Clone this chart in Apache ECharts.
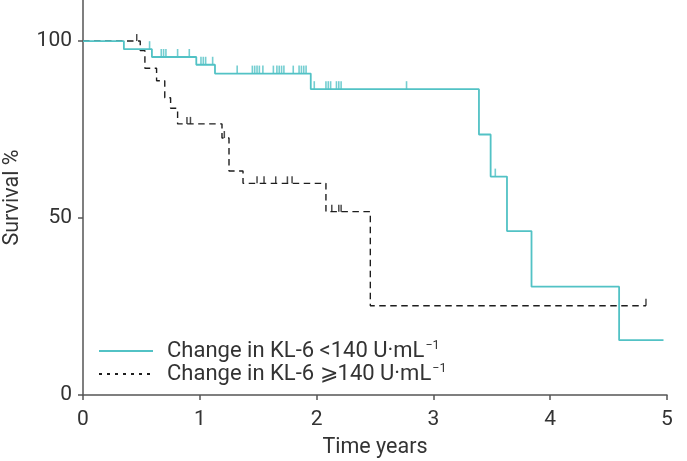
<!DOCTYPE html>
<html>
<head>
<meta charset="utf-8">
<script src="https://cdn.jsdelivr.net/npm/echarts@6/dist/echarts.min.js"></script>
<style>html,body{margin:0;padding:0;background:#fff}#c{width:687px;height:461px}</style>
</head>
<body>
<div id="c"></div>
<script>
// Time (years) at which each step occurs, and survival % after the step
var lowTimes     = [0, 0.35, 0.59, 0.97, 1.13, 1.95, 3.39, 3.49, 3.63, 3.84, 4.59, 4.97];
var lowSurvival  = [100, 97.7, 95.5, 93.3, 90.8, 86.4, 73.6, 61.7, 46.3, 30.6, 15.5, 15.5];
var lowCensorT   = [0.57, 0.67, 0.69, 0.71, 0.81, 0.91, 1.01, 1.03, 1.05, 1.11, 1.32, 1.45, 1.47, 1.49, 1.51, 1.54, 1.63, 1.66, 1.68, 1.70, 1.72, 1.80, 1.85, 1.87, 1.89, 1.91, 1.98, 2.08, 2.10, 2.12, 2.17, 2.19, 2.21, 2.77, 3.53];
var lowCensorS   = [97.7, 95.5, 95.5, 95.5, 95.5, 95.5, 93.3, 93.3, 93.3, 93.3, 90.8, 90.8, 90.8, 90.8, 90.8, 90.8, 90.8, 90.8, 90.8, 90.8, 90.8, 90.8, 90.8, 90.8, 90.8, 90.8, 86.4, 86.4, 86.4, 86.4, 86.4, 86.4, 86.4, 86.4, 61.7];

var highTimes    = [0, 0.49, 0.53, 0.63, 0.70, 0.75, 0.81, 1.19, 1.25, 1.37, 2.08, 2.46, 4.82];
var highSurvival = [100, 97.3, 92.3, 88.8, 84.0, 81.0, 76.6, 72.6, 63.3, 59.8, 51.8, 25.2, 25.2];
var highCensorT  = [0.46, 0.89, 0.92, 1.21, 1.49, 1.55, 1.65, 1.75, 1.79, 2.13, 2.19, 2.21, 4.82];
var highCensorS  = [100, 76.6, 76.6, 72.6, 59.8, 59.8, 59.8, 59.8, 59.8, 51.8, 51.8, 51.8, 25.2];

var xTicks = [0, 1, 2, 3, 4, 5];
var yTicks = [0, 50, 100];

var lowName  = 'Change in KL-6 <140 U\u00B7mL';
var highName = 'Change in KL-6 \u2A7E140 U\u00B7mL';

function pairs(a, b) { return a.map(function (v, i) { return [v, b[i]]; }); }

var cyan = '#52c2c5';
var dark = '#1e1e1e';
var fontFam = 'Roboto, "Noto Sans", sans-serif';

var chart = echarts.init(document.getElementById('c'), null, {renderer: 'canvas'});
chart.setOption({
  animation: false,
  backgroundColor: '#fff',
  textStyle: {fontFamily: fontFam},
  grid: {left: 83, right: 20, top: 0, bottom: 66, containLabel: false, outerBoundsMode: 'none'},
  legend: {
    orient: 'vertical', left: 98, top: 339, padding: 0, itemWidth: 54, itemHeight: 14, itemGap: 0,
    itemStyle: {opacity: 0},
    data: [
      {name: lowName},
      {name: highName, lineStyle: {type: [3, 5]}}
    ],
    formatter: function (n) { return '{t|' + n + '}{s|\u22121}'; },
    textStyle: {
      fontFamily: fontFam, fontSize: 22, color: '#333',
      rich: {
        t: {fontFamily: fontFam, fontSize: 22, color: '#333', lineHeight: 24, padding: [0, 0, 0, 9]},
        s: {fontFamily: fontFam, fontSize: 12.5, color: '#333', verticalAlign: 'top', lineHeight: 12, padding: [0, 0, 9, 1]}
      }
    }
  },
  xAxis: {
    type: 'value', min: 0, max: 5, interval: 1,
    name: 'Time years', nameLocation: 'middle', nameGap: 42,
    nameTextStyle: {fontSize: 21.5, color: '#333', fontFamily: fontFam},
    axisLine: {lineStyle: {color: '#555', width: 1.5}},
    axisTick: {show: true, length: 5, lineStyle: {color: '#555', width: 1.5}},
    axisLabel: {fontSize: 21, color: '#333', margin: 14, fontFamily: fontFam,
      formatter: function (v) { return xTicks.indexOf(v) >= 0 ? String(v) : ''; }},
    splitLine: {show: false}
  },
  yAxis: {
    type: 'value', min: 0, max: 111.6, interval: 50,
    name: 'Survival %', nameLocation: 'middle', nameGap: 59, nameRotate: 90,
    nameTextStyle: {fontSize: 21.5, color: '#333', fontFamily: fontFam},
    axisLine: {show: true, lineStyle: {color: '#555', width: 1.5}},
    axisTick: {show: true, length: 5, customValues: yTicks, lineStyle: {color: '#555', width: 1.5}},
    axisLabel: {fontSize: 21, color: '#333', margin: 11, customValues: yTicks, fontFamily: fontFam},
    splitLine: {show: false}
  },
  series: [
    {
      name: lowName, type: 'line', step: 'end', symbol: 'none', z: 3,
      data: pairs(lowTimes, lowSurvival),
      lineStyle: {color: cyan, width: 1.8}, itemStyle: {color: cyan}
    },
    {
      name: highName, type: 'line', step: 'end', symbol: 'none', z: 2,
      data: pairs(highTimes, highSurvival),
      lineStyle: {color: dark, width: 1.4, type: [6.5, 4.5]}, itemStyle: {color: dark}
    },
    {
      name: 'lowCensor', type: 'scatter', symbol: 'rect', symbolSize: [1.6, 8], symbolOffset: [0, -4], z: 3,
      data: pairs(lowCensorT, lowCensorS), itemStyle: {color: cyan}
    },
    {
      name: 'highCensor', type: 'scatter', symbol: 'rect', symbolSize: [1.5, 7], symbolOffset: [0, -3.5], z: 2,
      data: pairs(highCensorT, highCensorS), itemStyle: {color: dark}
    }
  ]
});
</script>
</body>
</html>
